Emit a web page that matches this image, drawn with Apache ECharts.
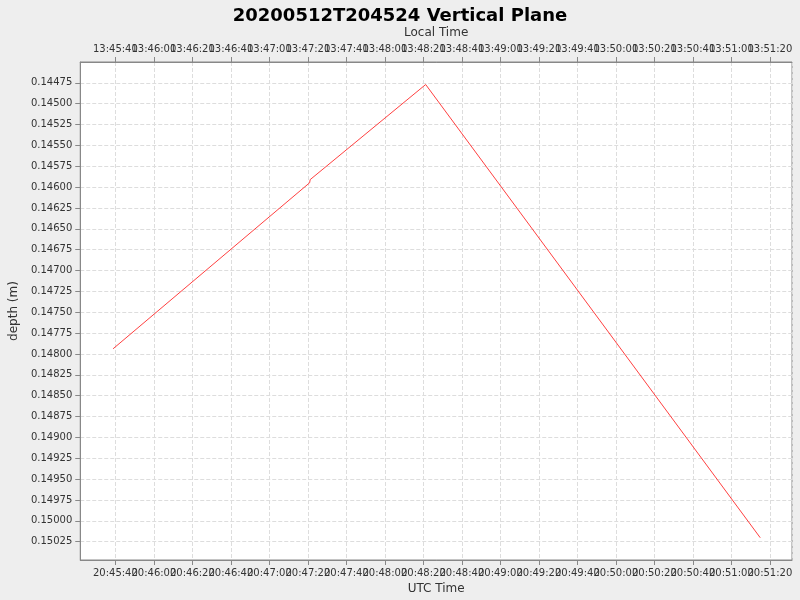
<!DOCTYPE html>
<html><head><meta charset="utf-8">
<script src="https://cdn.jsdelivr.net/npm/echarts@6/dist/echarts.min.js"></script>
<style>html,body{margin:0;padding:0;background:#eeeeee}#c{width:800px;height:600px}</style>
</head><body><div id="c"></div>
<script>
const times = ["2020-05-12T20:45:38.8Z","2020-05-12T20:47:20.9Z","2020-05-12T20:47:21.2Z","2020-05-12T20:48:21.2Z","2020-05-12T20:51:15.0Z"];
const depths = [0.147938,0.145948,0.145910,0.144770,0.150203];
const xMin = Date.parse("2020-05-12T20:45:21.75Z"), xMax = Date.parse("2020-05-12T20:51:31.5Z");
const localOffsetHours = -7;
const pad = n => String(n).padStart(2,'0');
const fmt = (v, off) => { const d = new Date(v + off*3600000); return pad(d.getUTCHours())+':'+pad(d.getUTCMinutes())+':'+pad(d.getUTCSeconds()); };
const data = times.map((t,i)=>[Date.parse(t), depths[i]]);
const font = 'DejaVu Sans';
const chart = echarts.init(document.getElementById('c'));
const xCommon = {type:'time', min:xMin, max:xMax, minInterval:30000, maxInterval:30000, splitNumber:12,
  axisLine:{lineStyle:{color:'#888'}}, axisTick:{show:true,lineStyle:{color:'#888'}},
  nameLocation:'middle', nameTextStyle:{fontFamily:font,fontSize:12,color:'#333'}};
chart.setOption({
  backgroundColor:'#eeeeee',
  animation:false,
  title:{text:'20200512T204524 Vertical Plane', left:'center', top:2, textStyle:{fontFamily:font,fontSize:18,fontWeight:'bold',color:'#000'}},
  grid:{left:75,right:8,top:62,bottom:40,show:true,backgroundColor:'#fff',borderColor:'#888',borderWidth:1},
  xAxis:[
    Object.assign({}, xCommon, {position:'bottom', name:'UTC Time', nameGap:22,
      axisLabel:{fontFamily:font,fontSize:10,color:'#333',hideOverlap:false,formatter:v=>fmt(v,0)},
      splitLine:{show:true,lineStyle:{type:'dashed',color:'#ddd'}}}),
    Object.assign({}, xCommon, {position:'top', name:'Local Time', nameGap:20,
      axisLabel:{fontFamily:font,fontSize:10,color:'#333',hideOverlap:false,formatter:v=>fmt(v,localOffsetHours)},
      splitLine:{show:false}})
  ],
  yAxis:{type:'value', inverse:true, min:0.1445, max:0.15047, interval:0.00025,
    name:'depth (m)', nameLocation:'middle', nameGap:58, nameTextStyle:{fontFamily:font,fontSize:12,color:'#333'},
    axisLine:{show:true,lineStyle:{color:'#888'}}, axisTick:{show:true,lineStyle:{color:'#888'}},
    axisLabel:{fontFamily:font,fontSize:10,color:'#333',showMinLabel:false,showMaxLabel:false,formatter:v=>v.toFixed(5)},
    splitLine:{show:true,lineStyle:{type:'dashed',color:'#ddd'}}},
  series:[{type:'line', data:data, showSymbol:false, lineStyle:{color:'#ff4040',width:1}, itemStyle:{color:'#ff4040'}}]
});
</script></body></html>
